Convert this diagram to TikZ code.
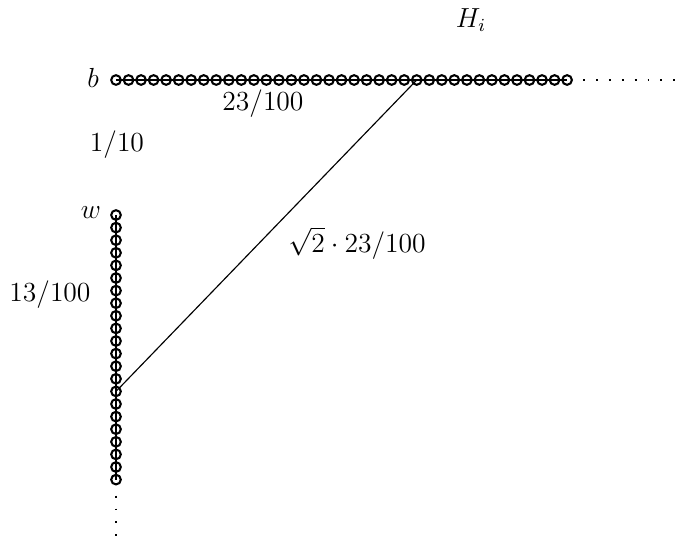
\documentclass[tikz,border=0pt]{standalone}
\usepackage{amsmath, amssymb}
\usetikzlibrary{positioning, calc}
\tikzset{
    bead/.style={circle, draw=black, line width=0.9pt, inner sep=0pt, minimum size=4.2pt},
    chainline/.style={line width=0.8pt},
    tail/.style={line width=0.5pt, dash pattern=on 0.8pt off 4.8pt},
    lbl/.style={font=\large, inner sep=1pt},
}

\begin{document}
\begin{tikzpicture}[x=0.435pt, y=-0.435pt]
    \useasboundingbox (0,0) rectangle (676,548);

    % --- horizontal chain b ---
    \foreach \i in {0,...,36}
        \coordinate (b-\i) at ({116+12.53*\i}, 80);
    \draw[chainline] (b-0) -- (b-36);
    \foreach \i in {0,...,36}
        \node[bead] at (b-\i) {};
    \coordinate (bend) at (676, 80);
    \draw[tail] ([xshift=7pt]b-36) -- (bend);

    % --- vertical chain w ---
    \foreach \i in {0,...,21}
        \coordinate (w-\i) at (116, {215+12.6*\i});
    \draw[chainline] (w-0) -- (w-21);
    \foreach \i in {0,...,21}
        \node[bead] at (w-\i) {};
    \coordinate (wend) at (116, 546);
    \draw[tail] ([yshift=-7pt]w-21) -- (wend);

    % diagonal
    \draw[line width=0.5pt] (w-14) -- (b-24);

    % labels
    \node[lbl] (hi) at (471, 20) {$H_i$};
    \node[lbl] (bl) at (93, 78) {$b$};
    \node[lbl] (wl) at (91, 213) {$w$};
    \node[lbl] (bw) at (263, 104) {$23/100$};
    \node[lbl] (gap) at (117, 145) {$1/10$};
    \node[lbl] (ww) at (50, 295) {$13/100$};
    \node[lbl] (diag) at (357, 243) {$\sqrt{2}\cdot 23/100$};
\end{tikzpicture}
\end{document}
